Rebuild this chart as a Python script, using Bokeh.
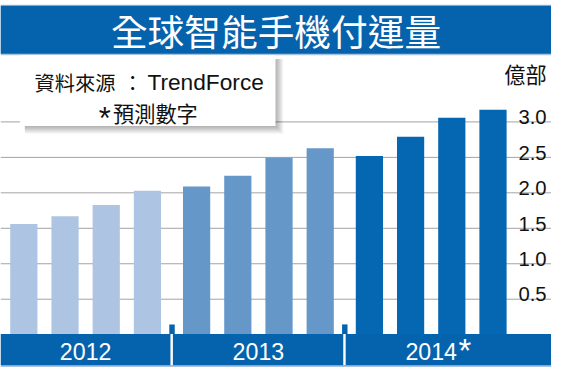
from bokeh.plotting import figure
from bokeh.models import Range1d, ColumnDataSource
from bokeh.core.properties import value
from bokeh.embed import file_html
from bokeh.resources import INLINE

# ---------------- data ----------------
chart_title = "全球智能手機付運量"
years = ["2012", "2013", "2014"]
forecast_mark = "*"
shipments_2012 = [1.56, 1.67, 1.83, 2.03]
shipments_2013 = [2.09, 2.24, 2.50, 2.63]
shipments_2014 = [2.52, 2.79, 3.06, 3.17]
tick_values = [0.5, 1.0, 1.5, 2.0, 2.5, 3.0]
tick_labels = ["0.5", "1.0", "1.5", "2.0", "2.5", "3.0"]
unit_label = "億部"
source_label = "資料來源：TrendForce"
note_label = "*預測數字"

series = [shipments_2012, shipments_2013, shipments_2014]
year_colors = ["#aec4e3", "#6697c9", "#0566b1"]
BLUE = "#0563ad"

# ---------------- layout (reference-pixel space) ----------------
REF_W, REF_H = 567, 384
W, H = 551, 368
S = 0.965                      # font scale to fit window
ZERO_PX, PX_PER_UNIT = 348.7, 74.0
FIRST, STEP, GAP, BAR_W = 24.0, 42.4, 8.2, 28.0

CJK = "Noto Sans CJK TC"
LAT = "Liberation Sans"


def dy(p):
    return (ZERO_PX - p) / PX_PER_UNIT


def fs(px):
    return f"{px * S:.1f}px"


p = figure(width=W, height=H, x_range=Range1d(0, REF_W),
           y_range=Range1d(dy(REF_H), dy(0)),
           x_axis_type=None, y_axis_type=None,
           output_backend="svg", toolbar_location=None,
           min_border=0, outline_line_color=None,
           background_fill_color="white", border_fill_color="white")
p.grid.visible = False

# bars
xs, tops, cols, group_centers = [], [], [], []
for g, vals in enumerate(series):
    gx = []
    for k, v in enumerate(vals):
        x = FIRST + STEP * (g * len(vals) + k) + GAP * g
        xs.append(x)
        tops.append(v)
        cols.append(year_colors[g])
        gx.append(x)
    group_centers.append((gx[0] + gx[-1]) / 2)

# gridlines
p.segment(x0=[0] * len(tick_values), x1=[REF_W] * len(tick_values),
          y0=tick_values, y1=tick_values, line_color="#a3a3a3", line_width=1)

bar_src = ColumnDataSource(dict(x=xs, top=tops, color=cols))
p.vbar(x="x", top="top", bottom=0, width=BAR_W, fill_color="color",
       line_color=None, source=bar_src)

# top banner
p.quad(left=[0], right=[REF_W], top=[dy(4.5)], bottom=[dy(57)],
       fill_color="#a9c2df", line_color=None)
p.quad(left=[0], right=[REF_W], top=[dy(5.5)], bottom=[dy(55.5)],
       fill_color=BLUE, line_color=None)
p.text(x=[REF_W / 2], y=[dy(31)], text=[chart_title], text_color="white",
       text_font=value(CJK), text_font_size=fs(38),
       text_align="center", text_baseline="middle")

# legend box with soft shadow
BL, BR, BT, BB = 20, 283, 57, 131
for i in range(1, 9):
    p.quad(left=[BL + 5], right=[BR + i], top=[dy(BT + 4)], bottom=[dy(BB + i)],
           fill_color="black", fill_alpha=0.04, line_color=None)
p.quad(left=[BL], right=[BR], top=[dy(BT)], bottom=[dy(BB)],
       fill_color="white", line_color=None)

src_cjk, src_lat = source_label.split("：")
p.text(x=[35], y=[dy(85)], text=[src_cjk], text_color="#111111",
       text_font=value(CJK), text_font_size=fs(21),
       text_align="left", text_baseline="middle")
p.text(x=[136], y=[dy(85)], text=["："], text_color="#111111",
       text_font=value(CJK), text_font_size=fs(21),
       text_align="center", text_baseline="middle")
p.text(x=[271], y=[dy(85)], text=[src_lat], text_color="#111111",
       text_font=value(LAT), text_font_size=fs(23.5),
       text_align="right", text_baseline="middle")
p.text(x=[101], y=[dy(104.5)], text=[note_label[0]], text_color="#111111",
       text_font=value(LAT), text_font_size=fs(32),
       text_align="left", text_baseline="top")
p.text(x=[203], y=[dy(117)], text=[note_label[1:]], text_color="#111111",
       text_font=value(CJK), text_font_size=fs(22),
       text_align="right", text_baseline="middle")

# right-side value labels
p.text(x=[562] * len(tick_values), y=[v + 5 / PX_PER_UNIT for v in tick_values],
       text=tick_labels, text_color="#111111", text_font=value(LAT),
       text_font_size=fs(21), text_align="right", text_baseline="alphabetic")
p.text(x=[562], y=[dy(76)], text=[unit_label], text_color="#111111",
       text_font=value(CJK), text_font_size=fs(22),
       text_align="right", text_baseline="middle")

# bottom band
p.quad(left=[0], right=[REF_W], top=[dy(380)], bottom=[dy(382.5)],
       fill_color="#a9c2df", line_color=None)
p.quad(left=[0], right=[REF_W], top=[dy(348)], bottom=[dy(380.5)],
       fill_color=BLUE, line_color=None)

# separators between years
n = len(shipments_2012)
for g in range(1, len(series)):
    left_bar = xs[g * n - 1] + BAR_W / 2
    right_bar = xs[g * n] - BAR_W / 2
    xm = (left_bar + right_bar) / 2
    p.quad(left=[xm - 2.8], right=[xm + 2.8], top=[dy(338)], bottom=[dy(349)],
           fill_color=BLUE, line_color=None)
    p.quad(left=[xm - 1.6], right=[xm + 0.9], top=[dy(348)], bottom=[dy(380.5)],
           fill_color="white", line_color=None)

# year labels
p.text(x=group_centers, y=[dy(366.5)] * len(years), text=years,
       text_color="white", text_font=value(LAT), text_font_size=fs(24),
       text_align="center", text_baseline="middle")
p.text(x=[group_centers[-1] + 28], y=[dy(346)], text=[forecast_mark],
       text_color="white", text_font=value(LAT), text_font_size=fs(34),
       text_align="left", text_baseline="top")

open("out.html", "w").write(file_html(p, INLINE))
